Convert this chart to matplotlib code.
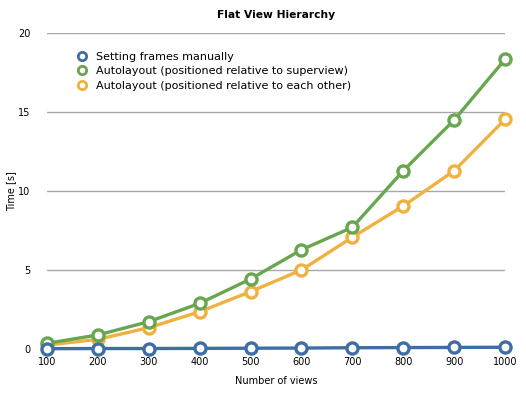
import matplotlib
matplotlib.use("Agg")
import matplotlib.pyplot as plt

views = [100, 200, 300, 400, 500, 600, 700, 800, 900, 1000]
manual = [0.02, 0.03, 0.03, 0.04, 0.05, 0.06, 0.08, 0.09, 0.10, 0.11]
superview = [0.36, 0.89, 1.73, 2.89, 4.43, 6.28, 7.70, 11.28, 14.49, 18.33]
each_other = [0.25, 0.61, 1.35, 2.36, 3.63, 5.0, 7.07, 9.05, 11.28, 14.53]
labels = ["Setting frames manually",
          "Autolayout (positioned relative to superview)",
          "Autolayout (positioned relative to each other)"]
colors = ["#3e6ea3", "#68a64f", "#efb13f"]
yticks = [0, 5, 10, 15, 20]

plt.rcParams['font.family'] = ['DejaVu Sans']
fig = plt.figure(figsize=(5.26, 3.94), dpi=100)
ax = fig.add_axes([47/526, 1-349/394, (505-47)/526, (349-33)/394])

series = [manual, superview, each_other]
zorders = [5, 4, 3]
for vals, lab, col, z in zip(series, labels, colors, zorders):
    ax.plot(views, vals, color=col, lw=2.4, marker='o', markersize=8,
            markerfacecolor='white', markeredgecolor=col, markeredgewidth=2.4,
            label=lab, zorder=z, clip_on=False)

ax.set_xlim(100, 1000)
ax.set_ylim(0, 20)
ax.set_xticks(views)
ax.set_yticks(yticks)
ax.tick_params(axis='x', length=0, labelsize=7, pad=6)
ax.tick_params(axis='y', length=0, labelsize=7, pad=12)
ax.yaxis.grid(True, color='#a8a8a8', lw=1)
ax.set_axisbelow(True)
for s in ax.spines.values():
    s.set_visible(False)

ax.set_title("Flat View Hierarchy", fontsize=7.7, fontweight='bold', pad=11)
ax.set_xlabel("Number of views", fontsize=7, labelpad=6)
ax.set_ylabel("Time [s]", fontsize=7, labelpad=1)

leg = ax.legend(loc='upper left', bbox_to_anchor=(0.06, 0.955), frameon=False,
                fontsize=8, handlelength=0.6, handletextpad=0.95,
                labelspacing=0.42, borderaxespad=0)
for h in leg.legend_handles:
    h.set_linestyle('none')
    h.set_markersize(6)
    h.set_markeredgewidth(2)

fig.savefig("out.png", dpi=100)
